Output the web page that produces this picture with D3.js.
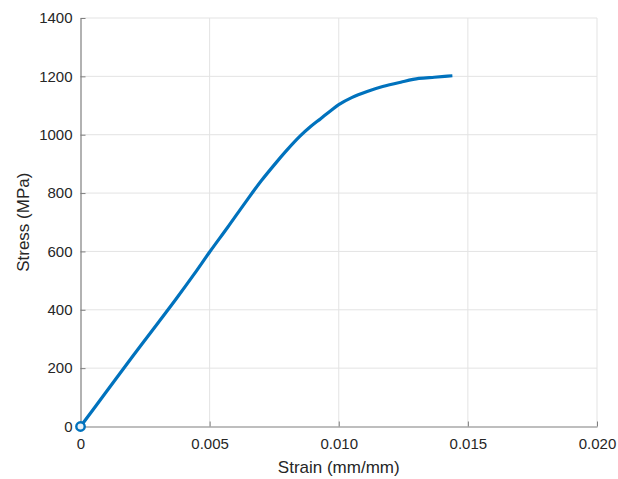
<!DOCTYPE html>
<html>
<head>
<meta charset="utf-8">
<script src="https://cdn.jsdelivr.net/npm/d3@7"></script>
<style>
  html, body { margin: 0; padding: 0; background: #fff; }
  svg { display: block; font-family: "Liberation Sans", Arial, Helvetica, sans-serif; }
</style>
</head>
<body>
<svg id="chart" width="618" height="479"></svg>
<script>
// Stress-strain curve of a tensile test specimen
const strain = [0, 0.0010, 0.0020, 0.0030, 0.0037, 0.0044, 0.0050, 0.0057, 0.0064,
                0.0070, 0.0076, 0.0080, 0.0085, 0.0089, 0.0093, 0.0097, 0.0100, 0.0105,
                0.0111, 0.0117, 0.0124, 0.0131, 0.0137, 0.0141, 0.0144];
const stress = [0, 119, 238, 355, 437, 522, 598, 683, 770,
                842, 907, 948, 995, 1027, 1055, 1083, 1103, 1127,
                1148, 1165, 1180, 1193, 1197, 1200, 1202];

const xTicks = [0, 0.005, 0.010, 0.015, 0.020];
const xTickLabels = ["0", "0.005", "0.010", "0.015", "0.020"];
const yTicks = [0, 200, 400, 600, 800, 1000, 1200, 1400];

const xLabel = "Strain (mm/mm)";
const yLabel = "Stress (MPa)";

const svg = d3.select("#chart");
const margin = { left: 80.5, right: 21, top: 18, bottom: 52.5 };
const W = 618, H = 479;

const x = d3.scaleLinear().domain([0, 0.020]).range([margin.left, W - margin.right]);
const y = d3.scaleLinear().domain([0, 1400]).range([H - margin.bottom, margin.top]);

const axisColor = "#7f7f7f";
const textColor = "#262626";
const gridColor = "#e3e3e3";

// grid
const grid = svg.append("g");
grid.selectAll("line.gx").data(xTicks.slice(1)).join("line")
  .attr("x1", d => x(d)).attr("x2", d => x(d))
  .attr("y1", y(0)).attr("y2", y(1400))
  .attr("stroke", gridColor).attr("stroke-width", 1);
grid.selectAll("line.gy").data(yTicks.slice(1)).join("line")
  .attr("y1", d => y(d)).attr("y2", d => y(d))
  .attr("x1", x(0)).attr("x2", x(0.020))
  .attr("stroke", gridColor).attr("stroke-width", 1);

// axes (ticks pointing inward)
const xAxis = d3.axisBottom(x).tickValues(xTicks)
  .tickFormat((d, i) => xTickLabels[i]).tickSize(-5).tickSizeOuter(0).tickPadding(12);
const yAxis = d3.axisLeft(y).tickValues(yTicks)
  .tickFormat(d3.format("d")).tickSize(-5).tickSizeOuter(0).tickPadding(8);

const gx = svg.append("g").attr("transform", `translate(0,${y(0)})`).call(xAxis);
const gy = svg.append("g").attr("transform", `translate(${x(0)},0)`).call(yAxis);

[gx, gy].forEach(g => {
  g.select(".domain").attr("stroke", axisColor).attr("stroke-width", 1.2);
  g.selectAll(".tick line").attr("stroke", axisColor).attr("stroke-width", 1);
  g.selectAll(".tick text").attr("fill", textColor)
    .style("font-size", "15px").style("font-family", "'Liberation Sans', Arial, sans-serif");
});

// axis titles
svg.append("text")
  .attr("x", (x(0) + x(0.020)) / 2).attr("y", 473)
  .attr("text-anchor", "middle").attr("fill", textColor)
  .style("font-size", "17px").text(xLabel);
svg.append("text")
  .attr("transform", `translate(29,${(y(0) + y(1400)) / 2}) rotate(-90)`)
  .attr("text-anchor", "middle").attr("fill", textColor)
  .style("font-size", "17px").text(yLabel);

// curve
const pts = strain.map((s, i) => [s, stress[i]]);
const line = d3.line().x(d => x(d[0])).y(d => y(d[1])).curve(d3.curveCatmullRom.alpha(0.5));
svg.append("path").datum(pts)
  .attr("d", line).attr("fill", "none")
  .attr("stroke", "#0072bd").attr("stroke-width", 3.2)
  .attr("stroke-linejoin", "round").attr("stroke-linecap", "butt");

// marker at the first sample
svg.append("circle").datum(pts[0])
  .attr("cx", d => x(d[0])).attr("cy", d => y(d[1])).attr("r", 4.2)
  .attr("fill", "#e8f1f9").attr("stroke", "#0072bd").attr("stroke-width", 2.4);
</script>
</body>
</html>
